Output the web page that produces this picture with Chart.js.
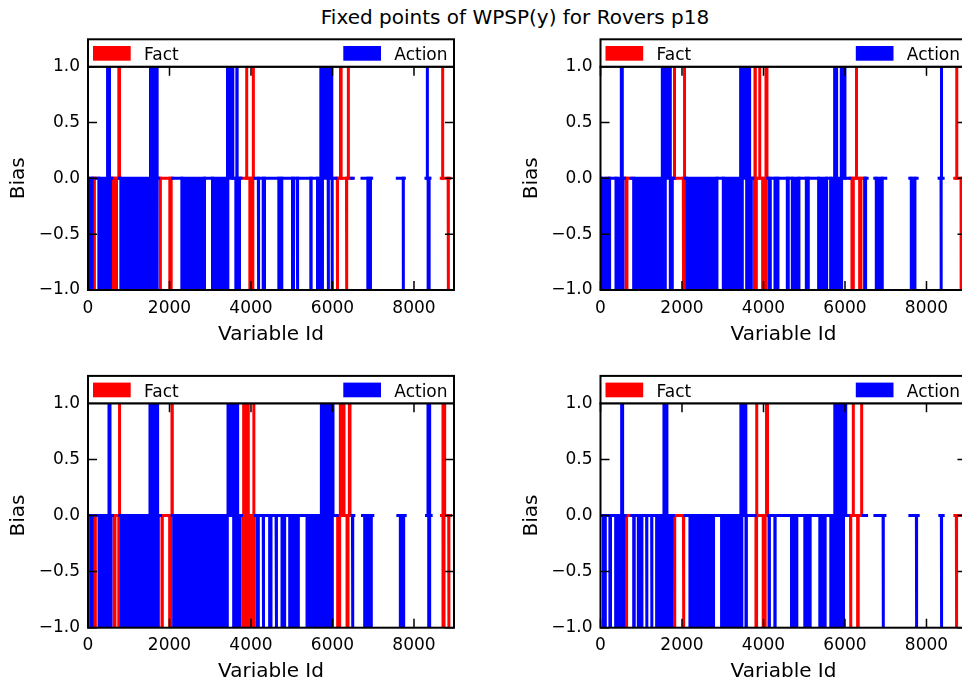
<!DOCTYPE html>
<html>
<head>
<meta charset="utf-8">
<script src="https://cdn.jsdelivr.net/npm/chart.js@4/dist/chart.umd.min.js"></script>
<style>
html,body{margin:0;padding:0;width:962px;height:686px;overflow:hidden;background:#fff;}
#title{position:absolute;left:0;top:5px;width:1030px;text-align:center;font-family:"DejaVu Sans";font-size:20px;line-height:24px;color:#000;white-space:nowrap;}
canvas{position:absolute;}
</style>
</head>
<body>
<div id="title">Fixed points of WPSP(y) for Rovers p18</div>
<canvas id="c0" width="470" height="320" style="left:0px;top:30px"></canvas>
<canvas id="c1" width="470" height="320" style="left:512px;top:30px"></canvas>
<canvas id="c2" width="470" height="320" style="left:0px;top:367px"></canvas>
<canvas id="c3" width="470" height="320" style="left:512px;top:367px"></canvas>
<script>
// ---------- axis ticks / labels ----------
const xTicks = [0, 2000, 4000, 6000, 8000];
const yTicks = [-1, -0.5, 0, 0.5, 1];
const yTickLabels = ['\u22121.0', '\u22120.5', '0.0', '0.5', '1.0'];
const xMax = 8982;
const seriesNames = ['Fact', 'Action'];
const xTitle = 'Variable Id';
const yTitle = 'Bias';

// ---------- data: ranges of Variable Id where Bias is 0 / +1 / -1 ----------
// top-left panel
const tlFactZero = [[115,196],[589,769],[1734,2078],[3755,4098],[6086,6470],[8670,8883]];
const tlFactUp = [[757,773],[3890,3898],[4053,4061],[6196,6212],[6384,6392],[8700,8706]];
const tlFactDown = [[150,160],[626,699],[1771,1779],[2008,2041],[3972,4045],[6118,6125],[6343,6351],[8838,8846]];
const tlActionZero = [[0,115],[196,589],[769,1734],[2078,3755],[4098,6086],[6470,6511],[6724,6961],[7591,7763],[8294,8392]];
const tlActionUp = [[480,528],[1534,1697],[3424,3554],[3653,3660],[5714,5983],[8325,8330]];
const tlActionDown = [[60,100],[266,552],[806,1697],[2303,2859],[3056,3432],[3628,3718],[4180,4190],[4299,4331],[4683,4756],[5018,5043],[5133,5149],[5468,5476],[5632,5754],[5894,5902],[5990,5995],[6867,6932],[7736,7740],[8347,8372]];

// top-right panel
const trFactZero = [[135,200],[588,752],[1799,2077],[3738,4106],[6118,6486],[8694,8858]];
const trFactUp = [[1812,1819],[2057,2065],[3791,3799],[3905,3910],[4061,4085],[6278,6285],[8740,8745]];
const trFactDown = [[625,649],[2032,2040],[3775,3824],[3979,4069],[6171,6204],[6359,6392],[8848,8852]];
const trActionZero = [[0,135],[200,588],[752,1799],[2077,3738],[4106,6118],[6486,6543],[6731,7001],[7590,7770],[8310,8408]];
const trActionUp = [[511,535],[1517,1713],[3439,3660],[5746,5795],[5909,5999],[8360,8372]];
const trActionDown = [[30,224],[380,551],[814,1590],[1713,1762],[2114,2858],[3014,3480],[3587,3701],[4143,4167],[4282,4355],[4584,4608],[4707,4870],[5051,5099],[5353,5549],[5648,5917],[6482,6506],[6768,6915],[7627,7717],[8357,8362]];

// bottom-left panel
const blFactZero = [[127,208],[601,781],[1779,2065],[3767,4110],[6115,6483],[8675,8896]];
const blFactUp = [[769,777],[2061,2069],[3820,3934],[4065,4073],[6193,6283],[6414,6430],[8712,8753]];
const blFactDown = [[170,180],[638,662],[755,765],[1816,1824],[2004,2028],[3804,4073],[6127,6176],[6357,6381],[8712,8737],[8852,8859]];
const blActionZero = [[0,127],[208,601],[781,1779],[2065,3767],[4110,6115],[6483,6524],[6737,6990],[7604,7784],[8307,8422]];
const blActionUp = [[515,540],[1521,1709],[3436,3673],[5727,6013],[8344,8385]];
const blActionDown = [[65,106],[270,564],[818,1726],[2102,3419],[3575,3730],[4147,4180],[4300,4310],[4458,4491],[4615,4630],[4761,4826],[4950,5162],[5375,5996],[6490,6500],[6790,6953],[7665,7747],[8361,8385]];

// bottom-right panel
const brFactZero = [[150,200],[605,768],[1790,2076],[3792,4120],[6081,6449],[8696,8868]];
const brFactUp = [[3829,3837],[4074,4099],[6199,6207],[6404,6412]];
const brFactDown = [[625,640],[1815,1825],[2035,2045],[3815,3830],[3993,4041],[6135,6145],[6310,6325],[8733,8741]];
const brActionZero = [[0,150],[200,605],[768,1790],[2076,3792],[4120,6081],[6449,6530],[6735,6980],[7593,7797],[8328,8410]];
const brActionUp = [[519,543],[1557,1630],[3445,3567],[5750,6019]];
const brActionDown = [[70,118],[230,245],[372,568],[815,828],[928,1017],[1132,1140],[1255,1263],[1377,1753],[2195,2774],[2971,3469],[3570,3580],[4135,4145],[4279,4286],[4687,4818],[5014,5145],[5382,5513],[5652,5963],[6935,6943],[7752,7760],[8365,8373]];

// ---------- rendering ----------
const FONT = 'DejaVu Sans';
const factColor = '#ff0000';
const actionColor = '#0000ff';

function ds(label, color, data, fill, order) {
  return {label, data, borderColor: color, backgroundColor: color, borderWidth: 3,
    pointRadius: 0, pointHoverRadius: 0, tension: 0, spanGaps: false, fill,
    borderCapStyle: 'square', borderJoinStyle: 'miter', order, clip: 0};
}
// one dataset holding all the Bias = 0 stretches (gaps between them are null)
function zeroSet(label, color, spans, order) {
  const d = [];
  spans.forEach(([s, e]) => { d.push({x: s, y: 0}, {x: e, y: 0}, {x: e, y: null}); });
  return [ds(label, color, d, false, order)];
}
// one filled dataset per stretch where Bias = v (+1 or -1)
function blockSets(label, color, spans, v, order) {
  return spans.map(([s, e]) =>
    ds(label, color, [{x: s, y: 0}, {x: s, y: v}, {x: e, y: v}, {x: e, y: 0}], 'origin', order));
}

const mplPlugin = {
  id: 'mpl',
  afterDatasetsDraw(chart) {
    const {ctx, chartArea: a, scales: {x, y}} = chart;
    ctx.save();
    ctx.strokeStyle = '#000';
    ctx.lineWidth = 1.5;
    ctx.beginPath();
    xTicks.forEach(v => {
      const px = x.getPixelForValue(v);
      ctx.moveTo(px, a.bottom); ctx.lineTo(px, a.bottom - 9);
      ctx.moveTo(px, a.top); ctx.lineTo(px, a.top + 9);
    });
    yTicks.forEach(v => {
      const py = y.getPixelForValue(v);
      ctx.moveTo(a.left, py); ctx.lineTo(a.left + 9, py);
      ctx.moveTo(a.right, py); ctx.lineTo(a.right - 9, py);
    });
    ctx.stroke();
    ctx.lineWidth = 2;
    ctx.strokeRect(a.left, a.top, a.right - a.left, a.bottom - a.top);
    // legend box above the axes (expanded across the axes width)
    const lt = a.top - 27.4;
    ctx.fillStyle = '#fff';
    ctx.fillRect(a.left, lt, a.right - a.left, a.top - lt);
    ctx.strokeRect(a.left, lt, a.right - a.left, a.top - lt);
    const items = [
      {label: seriesNames[0], color: factColor, off: 5},
      {label: seriesNames[1], color: actionColor, off: 255.3}
    ];
    ctx.font = '17px "' + FONT + '"';
    ctx.textBaseline = 'alphabetic';
    ctx.textAlign = 'left';
    items.forEach(it => {
      ctx.fillStyle = it.color;
      ctx.fillRect(a.left + it.off, a.top - 20.7, 37.7, 14.7);
      ctx.fillStyle = '#000';
      ctx.fillText(it.label, a.left + it.off + 51, a.top - 6.7);
    });
    ctx.restore();
  }
};

function makeChart(id, pad, xh, f0, fu, fd, a0, au, ad) {
  const datasets = [].concat(
    zeroSet(seriesNames[1], actionColor, a0, 0),
    blockSets(seriesNames[1], actionColor, au, 1, 0),
    blockSets(seriesNames[1], actionColor, ad, -1, 0),
    zeroSet(seriesNames[0], factColor, f0, 1),
    blockSets(seriesNames[0], factColor, fu, 1, 1),
    blockSets(seriesNames[0], factColor, fd, -1, 1)
  );
  return new Chart(document.getElementById(id), {
    type: 'line',
    data: {datasets},
    options: {
      responsive: false, animation: false, devicePixelRatio: 1,
      events: [],
      layout: {padding: pad},
      plugins: {legend: {display: false}, tooltip: {enabled: false}},
      scales: {
        x: {
          type: 'linear', min: 0, max: xMax,
          grid: {display: false, drawTicks: false}, border: {display: false},
          ticks: {color: '#000', font: {family: FONT, size: 17}, padding: 8,
                  maxRotation: 0, autoSkip: false, callback: v => String(v)},
          title: {display: true, text: xTitle, color: '#000',
                  font: {family: FONT, size: 20, lineHeight: 1.2}, padding: {top: 0, bottom: 3}},
          afterBuildTicks: s => { s.ticks = xTicks.map(v => ({value: v})); },
          afterFit: s => { s.height = xh; }
        },
        y: {
          type: 'linear', min: -1, max: 1,
          grid: {display: false, drawTicks: false}, border: {display: false},
          ticks: {color: '#000', font: {family: FONT, size: 17}, padding: 8,
                  autoSkip: false, callback: v => yTickLabels[yTicks.indexOf(v)]},
          title: {display: true, text: yTitle, color: '#000',
                  font: {family: FONT, size: 20, lineHeight: 1.2}, padding: {top: 7, bottom: 0}},
          afterBuildTicks: s => { s.ticks = yTicks.map(v => ({value: v})); },
          afterFit: s => { s.width = 88; }
        }
      }
    },
    plugins: [mplPlugin]
  });
}

makeChart('c0', {left: 0, top: 36.7, right: 16, bottom: 0}, 60,
  tlFactZero, tlFactUp, tlFactDown, tlActionZero, tlActionUp, tlActionDown);
makeChart('c1', {left: 0.5, top: 36.7, right: 15.5, bottom: 0}, 60,
  trFactZero, trFactUp, trFactDown, trActionZero, trActionUp, trActionDown);
makeChart('c2', {left: 0, top: 36.3, right: 16, bottom: 0}, 59.3,
  blFactZero, blFactUp, blFactDown, blActionZero, blActionUp, blActionDown);
makeChart('c3', {left: 0.5, top: 36.3, right: 15.5, bottom: 0}, 59.3,
  brFactZero, brFactUp, brFactDown, brActionZero, brActionUp, brActionDown);
</script>
</body>
</html>
